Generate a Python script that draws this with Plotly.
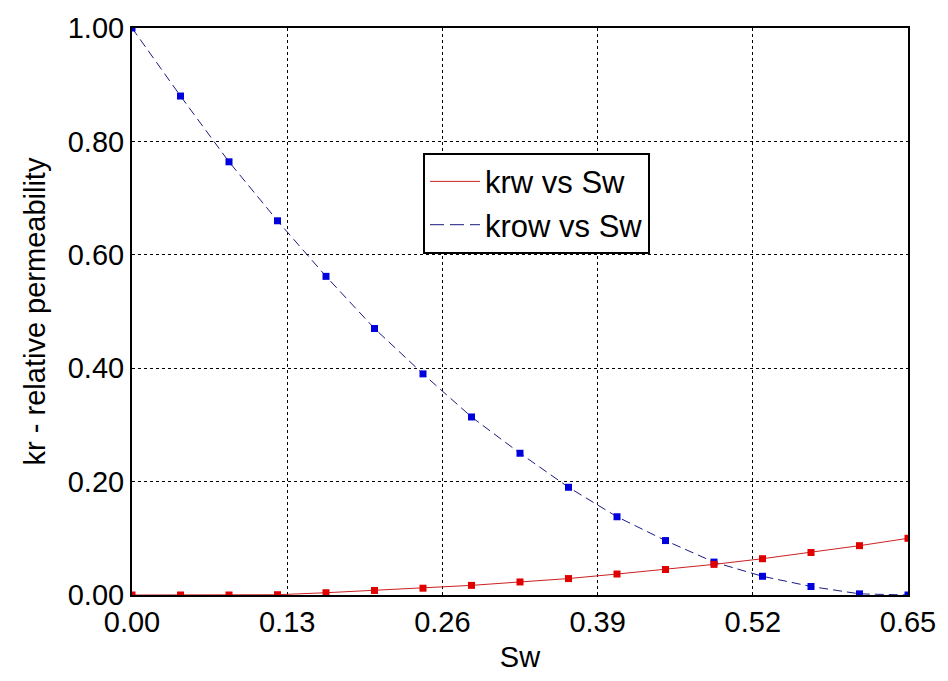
import plotly.graph_objects as go

sw = [0.65 * i / 16 for i in range(17)]
krw = [0.0, 0.0, 0.0, 0.0005, 0.004, 0.008, 0.012, 0.017, 0.023, 0.029,
       0.037, 0.045, 0.054, 0.064, 0.075, 0.087, 0.100]
krow = [1.0, 0.880, 0.764, 0.660, 0.562, 0.470, 0.390, 0.314, 0.250, 0.190,
        0.138, 0.096, 0.058, 0.033, 0.015, 0.002, 0.0]

x_ticks = [0.0, 0.13, 0.26, 0.39, 0.52, 0.65]
x_ticktext = ["0.00", "0.13", "0.26", "0.39", "0.52", "0.65"]
y_ticks = [0.0, 0.2, 0.4, 0.6, 0.8, 1.0]
y_ticktext = ["0.00", "0.20", "0.40", "0.60", "0.80", "1.00"]

FONT = "Liberation Sans, Arial, sans-serif"
RED_LINE = "#cc2020"
BLUE_LINE = "#1a1a80"

fig = go.Figure()
fig.add_trace(go.Scatter(
    x=sw, y=krow, mode="lines+markers", showlegend=False,
    line=dict(color=BLUE_LINE, width=1, dash="9px,5px"),
    marker=dict(symbol="square", size=7, color="#0000dd"),
))
fig.add_trace(go.Scatter(
    x=sw, y=krw, mode="lines+markers", showlegend=False,
    line=dict(color=RED_LINE, width=1),
    marker=dict(symbol="square", size=7, color="#e00000"),
))
# legend entries (line only, as in the reference)
fig.add_trace(go.Scatter(
    x=[None], y=[None], name="krw vs Sw", mode="lines",
    line=dict(color=RED_LINE, width=1),
))
fig.add_trace(go.Scatter(
    x=[None], y=[None], name="krow vs Sw", mode="lines",
    line=dict(color=BLUE_LINE, width=1, dash="14px,6px"),
))

axis_common = dict(
    showline=True, linecolor="black", linewidth=2, mirror=True,
    showgrid=True, gridcolor="black", gridwidth=1, griddash="3px,3px",
    zeroline=False, ticks="", tickfont=dict(family=FONT, size=29, color="black"),
)

fig.update_layout(
    width=948, height=681,
    margin=dict(l=132, r=40, t=22, b=86),
    paper_bgcolor="white", plot_bgcolor="white",
    font=dict(family=FONT, color="black"),
    showlegend=True,
    legend=dict(
        x=0.375, y=0.78, xanchor="left", yanchor="top",
        bgcolor="white", bordercolor="black", borderwidth=2,
        font=dict(family=FONT, size=31, color="black"),
        tracegroupgap=0, itemwidth=50,
    ),
    xaxis=dict(
        range=[0, 0.65], tickvals=x_ticks, ticktext=x_ticktext,
        title=dict(text="Sw", font=dict(family=FONT, size=29), standoff=10),
        **axis_common,
    ),
    yaxis=dict(
        range=[0, 1.0], tickvals=y_ticks, ticktext=y_ticktext,
        title=dict(text="kr - relative permeability", font=dict(family=FONT, size=29), standoff=14),
        **axis_common,
    ),
)

fig.write_html("out.html")
